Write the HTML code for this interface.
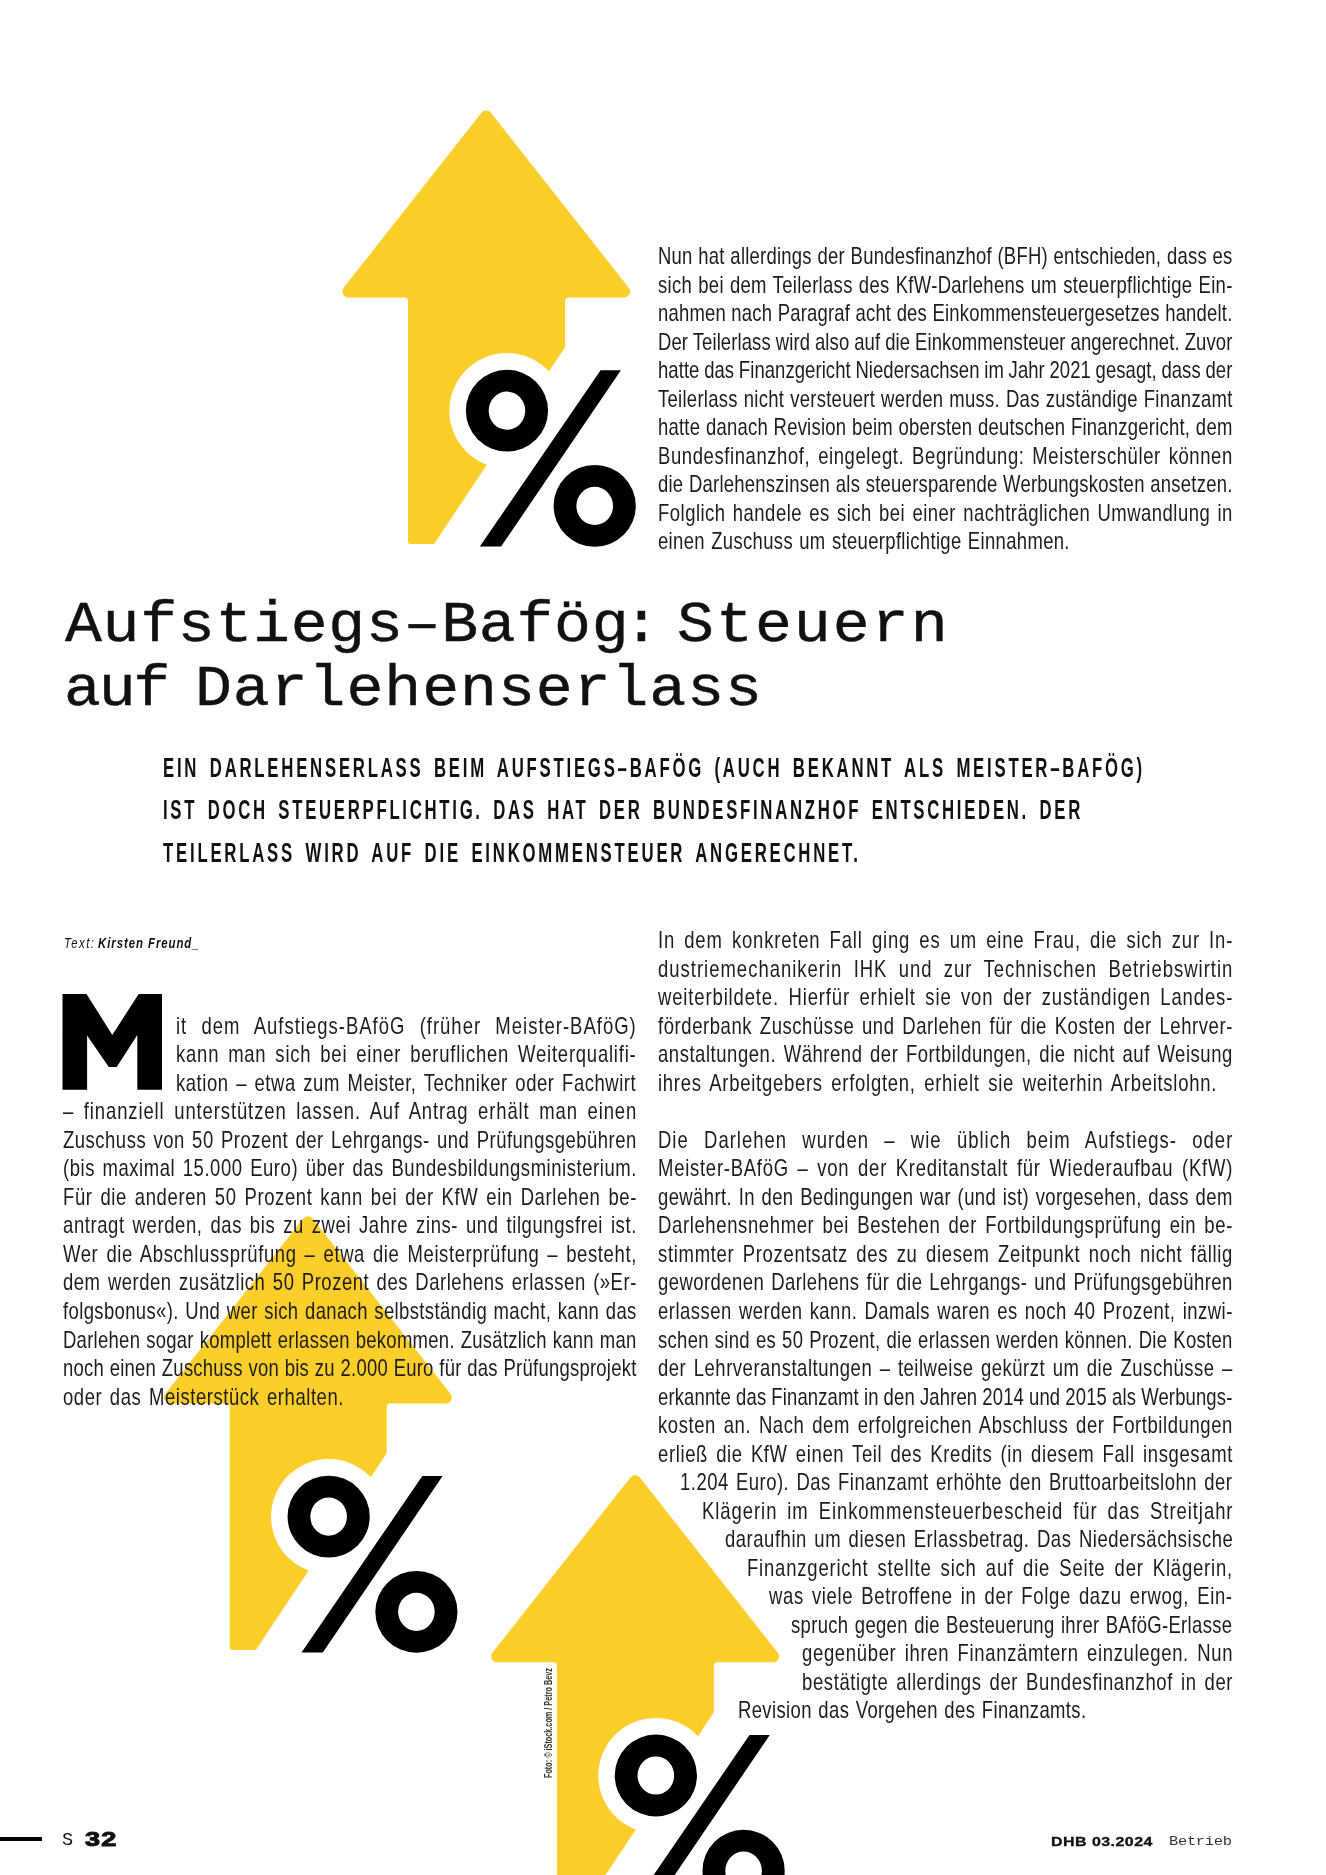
<!DOCTYPE html>
<html lang="de"><head><meta charset="utf-8"><title>Aufstiegs-Bafög: Steuern auf Darlehenserlass</title>
<style>
html,body{margin:0;padding:0;background:#fff}
#p{will-change:transform;position:relative;width:1326px;height:1875px;overflow:hidden;background:#fff;font-family:"Liberation Sans",sans-serif;color:#111}
.l{position:absolute;white-space:pre;font-size:23.2px;line-height:28px;transform-origin:0 0;transform:scaleX(0.797);color:#1c1c1c}
.h{position:absolute;white-space:pre;font-family:"Liberation Mono",monospace;font-size:56.5px;line-height:64px;transform-origin:0 0;transform:scaleX(1.0885);color:#111;-webkit-text-stroke:.45px #111}
.i{position:absolute;white-space:pre;font-weight:bold;font-size:26.8px;line-height:32px;transform-origin:0 0;transform:scaleX(0.625);color:#111}
.by{position:absolute;white-space:pre;font-size:15.0px;line-height:18px;transform-origin:0 0;transform:scaleX(0.76)}
.fs{position:absolute;font-family:"Liberation Mono",monospace;font-size:18.5px;line-height:24px}
.fn{position:absolute;font-weight:bold;font-size:20.5px;line-height:24px;transform-origin:0 0;transform:scaleX(1.32);-webkit-text-stroke:1px #111;letter-spacing:1px}
.fd{position:absolute;white-space:pre;font-weight:bold;font-size:12.3px;line-height:16px;transform-origin:0 0;transform:scaleX(1.3);-webkit-text-stroke:.3px #111}
.fb{position:absolute;font-family:"Liberation Mono",monospace;font-size:13.4px;line-height:16px;color:#333;transform-origin:0 0;transform:scaleX(1.15)}
.cr{position:absolute;white-space:pre;font-weight:bold;font-size:11.5px;line-height:12px;transform-origin:0 0;transform:rotate(-90deg) scaleX(0.63);color:#333}
</style></head><body><div id="p">
<svg width="1326" height="1875" viewBox="0 0 1326 1875" style="position:absolute;left:0;top:0"><g><path d="M481.49 112.69 A6 6 0 0 1 490.91 112.69 L628.76 287.79 A6 6 0 0 1 624.04 297.50 L568.50 297.50 A3.5 3.5 0 0 0 565.00 301.00 L565.00 541.00 A3 3 0 0 1 562.00 544.00 L411.00 544.00 A3 3 0 0 1 408.00 541.00 L408.00 301.00 A3.5 3.5 0 0 0 404.50 297.50 L348.36 297.50 A6 6 0 0 1 343.64 287.79 Z" fill="#fcce2a"/><path d="M570 339.84L570 547L432.13 547Z" fill="#fff"/><circle cx="506.95" cy="410.7" r="57.6" fill="#fff"/><path d="M465.85 410.70A41.1 40.9 0 1 1 548.05 410.70A41.1 40.9 0 1 1 465.85 410.70ZM488.65 410.70A18.3 19.1 0 1 0 525.25 410.70A18.3 19.1 0 1 0 488.65 410.70ZM553.60 505.90A41.1 40.9 0 1 1 635.80 505.90A41.1 40.9 0 1 1 553.60 505.90ZM576.40 505.90A18.3 19.1 0 1 0 613.00 505.90A18.3 19.1 0 1 0 576.40 505.90ZM600.6 370.2L620.9 370.2L501.1 546.6L479.8 546.6Z" fill="#000"/></g><g transform="translate(-178.3 1105.9)"><path d="M481.49 112.69 A6 6 0 0 1 490.91 112.69 L628.76 287.79 A6 6 0 0 1 624.04 297.50 L568.50 297.50 A3.5 3.5 0 0 0 565.00 301.00 L565.00 541.00 A3 3 0 0 1 562.00 544.00 L411.00 544.00 A3 3 0 0 1 408.00 541.00 L408.00 301.00 A3.5 3.5 0 0 0 404.50 297.50 L348.36 297.50 A6 6 0 0 1 343.64 287.79 Z" fill="#fcce2a"/><path d="M570 339.84L570 547L432.13 547Z" fill="#fff"/><circle cx="506.95" cy="410.7" r="57.6" fill="#fff"/><path d="M465.85 410.70A41.1 40.9 0 1 1 548.05 410.70A41.1 40.9 0 1 1 465.85 410.70ZM488.65 410.70A18.3 19.1 0 1 0 525.25 410.70A18.3 19.1 0 1 0 488.65 410.70ZM553.60 505.90A41.1 40.9 0 1 1 635.80 505.90A41.1 40.9 0 1 1 553.60 505.90ZM576.40 505.90A18.3 19.1 0 1 0 613.00 505.90A18.3 19.1 0 1 0 576.40 505.90ZM600.6 370.2L620.9 370.2L501.1 546.6L479.8 546.6Z" fill="#000"/></g><g transform="translate(148.9 1364.8)"><path d="M481.49 112.69 A6 6 0 0 1 490.91 112.69 L628.76 287.79 A6 6 0 0 1 624.04 297.50 L568.50 297.50 A3.5 3.5 0 0 0 565.00 301.00 L565.00 541.00 A3 3 0 0 1 562.00 544.00 L411.00 544.00 A3 3 0 0 1 408.00 541.00 L408.00 301.00 A3.5 3.5 0 0 0 404.50 297.50 L348.36 297.50 A6 6 0 0 1 343.64 287.79 Z" fill="#fcce2a"/><path d="M570 339.84L570 547L432.13 547Z" fill="#fff"/><circle cx="506.95" cy="410.7" r="57.6" fill="#fff"/><path d="M465.85 410.70A41.1 40.9 0 1 1 548.05 410.70A41.1 40.9 0 1 1 465.85 410.70ZM488.65 410.70A18.3 19.1 0 1 0 525.25 410.70A18.3 19.1 0 1 0 488.65 410.70ZM553.60 505.90A41.1 40.9 0 1 1 635.80 505.90A41.1 40.9 0 1 1 553.60 505.90ZM576.40 505.90A18.3 19.1 0 1 0 613.00 505.90A18.3 19.1 0 1 0 576.40 505.90ZM600.6 370.2L620.9 370.2L501.1 546.6L479.8 546.6Z" fill="#000"/></g></svg>
<svg width="1326" height="1875" viewBox="0 0 1326 1875" style="position:absolute;left:0;top:0"><polygon fill="#000" points="62.5,994.0 86.5,994.0 112.3,1034.9 138.7,994.0 162.0,994.0 162.0,1089.8 137.3,1089.8 137.3,1034.9 116.7,1067.1 108.8,1067.1 87.1,1035.4 87.1,1089.8 62.5,1089.8"/></svg>
<div class="h" style="left:65.10px;top:594.32px;letter-spacing:0.660px">Aufstiegs–Bafög</div><div class="h" style="left:623.25px;top:594.32px;letter-spacing:0.000px">:</div><div class="h" style="left:677.42px;top:594.32px;letter-spacing:1.879px">Steuern</div><div class="h" style="left:64.13px;top:657.72px;letter-spacing:-2.063px">auf</div><div class="h" style="left:195.35px;top:657.72px;letter-spacing:0.880px">Darlehenserlass</div>
<div class="i" style="left:162.57px;top:751.51px;letter-spacing:4.428px;word-spacing:5.0px">EIN DARLEHENSERLASS BEIM AUFSTIEGS–BAFÖG (AUCH BEKANNT ALS MEISTER–BAFÖG)</div>
<div class="i" style="left:162.57px;top:794.41px;letter-spacing:4.342px;word-spacing:5.0px">IST DOCH STEUERPFLICHTIG. DAS HAT DER BUNDESFINANZHOF ENTSCHIEDEN. DER</div>
<div class="i" style="left:163.20px;top:837.01px;letter-spacing:4.446px;word-spacing:5.0px">TEILERLASS WIRD AUF DIE EINKOMMENSTEUER ANGERECHNET.</div>

<div class="by" style="left:64.0px;top:933.70px;letter-spacing:1.876px"><i>Text:</i></div><div class="by" style="left:98.0px;top:933.70px;letter-spacing:1.238px"><b><i>Kirsten Freund_</i></b></div>
<div class="l" style="left:658.0px;top:242.36px;letter-spacing:0.293px;word-spacing:0.405px">Nun hat allerdings der Bundesfinanzhof (BFH) entschieden, dass es</div>
<div class="l" style="left:658.0px;top:270.85px;letter-spacing:0.385px;word-spacing:0.866px">sich bei dem Teilerlass des KfW-Darlehens um steuerpflichtige Ein-</div>
<div class="l" style="left:658.0px;top:299.34px;letter-spacing:0.240px;word-spacing:0.142px">nahmen nach Paragraf acht des Einkommensteuergesetzes handelt.</div>
<div class="l" style="left:658.0px;top:327.83px;letter-spacing:0.134px;word-spacing:-0.390px">Der Teilerlass wird also auf die Einkommensteuer angerechnet. Zuvor</div>
<div class="l" style="left:658.0px;top:356.32px;letter-spacing:0.086px;word-spacing:-0.626px">hatte das Finanzgericht Niedersachsen im Jahr 2021 gesagt, dass der</div>
<div class="l" style="left:658.0px;top:384.81px;letter-spacing:0.350px;word-spacing:0.691px">Teilerlass nicht versteuert werden muss. Das zuständige Finanzamt</div>
<div class="l" style="left:658.0px;top:413.30px;letter-spacing:0.286px;word-spacing:0.375px">hatte danach Revision beim obersten deutschen Finanzgericht, dem</div>
<div class="l" style="left:658.0px;top:441.79px;letter-spacing:0.745px;word-spacing:2.669px">Bundesfinanzhof, eingelegt. Begründung: Meisterschüler können</div>
<div class="l" style="left:658.0px;top:470.28px;letter-spacing:0.288px;word-spacing:0.384px">die Darlehenszinsen als steuersparende Werbungskosten ansetzen.</div>
<div class="l" style="left:658.0px;top:498.77px;letter-spacing:0.614px;word-spacing:2.012px">Folglich handele es sich bei einer nachträglichen Umwandlung in</div>
<div class="l" style="left:658.0px;top:527.26px;letter-spacing:0.420px;word-spacing:1.043px">einen Zuschuss um steuerpflichtige Einnahmen.</div>
<div class="l" style="left:176.1px;top:1011.89px;letter-spacing:1.255px;word-spacing:10.231px">it dem Aufstiegs-BAföG (früher Meister-BAföG)</div>
<div class="l" style="left:176.1px;top:1040.40px;letter-spacing:0.975px;word-spacing:3.817px">kann man sich bei einer beruflichen Weiterqualifi-</div>
<div class="l" style="left:176.1px;top:1068.91px;letter-spacing:0.685px;word-spacing:2.366px">kation – etwa zum Meister, Techniker oder Fachwirt</div>
<div class="l" style="left:62.5px;top:1097.42px;letter-spacing:1.116px;word-spacing:4.524px">– finanziell unterstützen lassen. Auf Antrag erhält man einen</div>
<div class="l" style="left:62.5px;top:1125.93px;letter-spacing:0.635px;word-spacing:2.115px">Zuschuss von 50 Prozent der Lehrgangs- und Prüfungsgebühren</div>
<div class="l" style="left:62.5px;top:1154.44px;letter-spacing:0.688px;word-spacing:2.382px">(bis maximal 15.000 Euro) über das Bundesbildungsministerium.</div>
<div class="l" style="left:62.5px;top:1182.95px;letter-spacing:0.759px;word-spacing:2.735px">Für die anderen 50 Prozent kann bei der KfW ein Darlehen be-</div>
<div class="l" style="left:62.5px;top:1211.46px;letter-spacing:0.750px;word-spacing:2.691px">antragt werden, das bis zu zwei Jahre zins- und tilgungsfrei ist.</div>
<div class="l" style="left:62.5px;top:1239.97px;letter-spacing:0.773px;word-spacing:2.807px">Wer die Abschlussprüfung – etwa die Meisterprüfung – besteht,</div>
<div class="l" style="left:62.5px;top:1268.48px;letter-spacing:0.653px;word-spacing:2.209px">dem werden zusätzlich 50 Prozent des Darlehens erlassen (»Er-</div>
<div class="l" style="left:62.5px;top:1296.99px;letter-spacing:0.463px;word-spacing:1.257px">folgsbonus«). Und wer sich danach selbstständig macht, kann das</div>
<div class="l" style="left:62.5px;top:1325.50px;letter-spacing:0.347px;word-spacing:0.678px">Darlehen sogar komplett erlassen bekommen. Zusätzlich kann man</div>
<div class="l" style="left:62.5px;top:1354.01px;letter-spacing:0.297px;word-spacing:0.427px">noch einen Zuschuss von bis zu 2.000 Euro für das Prüfungsprojekt</div>
<div class="l" style="left:62.5px;top:1382.52px;letter-spacing:0.700px;word-spacing:2.441px">oder das Meisterstück erhalten.</div>
<div class="l" style="left:658.0px;top:926.36px;letter-spacing:1.028px;word-spacing:4.084px">In dem konkreten Fall ging es um eine Frau, die sich zur In-</div>
<div class="l" style="left:658.0px;top:954.87px;letter-spacing:1.255px;word-spacing:6.427px">dustriemechanikerin IHK und zur Technischen Betriebswirtin</div>
<div class="l" style="left:658.0px;top:983.38px;letter-spacing:1.085px;word-spacing:4.366px">weiterbildete. Hierfür erhielt sie von der zuständigen Landes-</div>
<div class="l" style="left:658.0px;top:1011.89px;letter-spacing:0.717px;word-spacing:2.526px">förderbank Zuschüsse und Darlehen für die Kosten der Lehrver-</div>
<div class="l" style="left:658.0px;top:1040.40px;letter-spacing:0.686px;word-spacing:2.372px">anstaltungen. Während der Fortbildungen, die nicht auf Weisung</div>
<div class="l" style="left:658.0px;top:1068.91px;letter-spacing:0.906px;word-spacing:3.474px">ihres Arbeitgebers erfolgten, erhielt sie weiterhin Arbeitslohn.</div>
<div class="l" style="left:658.0px;top:1125.93px;letter-spacing:1.255px;word-spacing:11.510px">Die Darlehen wurden – wie üblich beim Aufstiegs- oder</div>
<div class="l" style="left:658.0px;top:1154.44px;letter-spacing:0.931px;word-spacing:3.595px">Meister-BAföG – von der Kreditanstalt für Wiederaufbau (KfW)</div>
<div class="l" style="left:658.0px;top:1182.95px;letter-spacing:0.491px;word-spacing:1.399px">gewährt. In den Bedingungen war (und ist) vorgesehen, dass dem</div>
<div class="l" style="left:658.0px;top:1211.46px;letter-spacing:0.796px;word-spacing:2.920px">Darlehensnehmer bei Bestehen der Fortbildungsprüfung ein be-</div>
<div class="l" style="left:658.0px;top:1239.97px;letter-spacing:0.864px;word-spacing:3.260px">stimmter Prozentsatz des zu diesem Zeitpunkt noch nicht fällig</div>
<div class="l" style="left:658.0px;top:1268.48px;letter-spacing:0.563px;word-spacing:1.759px">gewordenen Darlehens für die Lehrgangs- und Prüfungsgebühren</div>
<div class="l" style="left:658.0px;top:1296.99px;letter-spacing:0.607px;word-spacing:1.979px">erlassen werden kann. Damals waren es noch 40 Prozent, inzwi-</div>
<div class="l" style="left:658.0px;top:1325.50px;letter-spacing:0.368px;word-spacing:0.780px">schen sind es 50 Prozent, die erlassen werden können. Die Kosten</div>
<div class="l" style="left:658.0px;top:1354.01px;letter-spacing:0.659px;word-spacing:2.236px">der Lehrveranstaltungen – teilweise gekürzt um die Zuschüsse –</div>
<div class="l" style="left:658.0px;top:1382.52px;letter-spacing:0.166px;word-spacing:-0.228px">erkannte das Finanzamt in den Jahren 2014 und 2015 als Werbungs-</div>
<div class="l" style="left:658.0px;top:1411.03px;letter-spacing:0.730px;word-spacing:2.591px">kosten an. Nach dem erfolgreichen Abschluss der Fortbildungen</div>
<div class="l" style="left:658.0px;top:1439.54px;letter-spacing:0.802px;word-spacing:2.951px">erließ die KfW einen Teil des Kredits (in diesem Fall insgesamt</div>
<div class="l" style="left:680.4px;top:1468.05px;letter-spacing:0.617px;word-spacing:2.026px">1.204 Euro). Das Finanzamt erhöhte den Bruttoarbeitslohn der</div>
<div class="l" style="left:701.8px;top:1496.56px;letter-spacing:1.183px;word-spacing:4.855px">Klägerin im Einkommensteuerbescheid für das Streitjahr</div>
<div class="l" style="left:724.5px;top:1525.07px;letter-spacing:0.668px;word-spacing:2.284px">daraufhin um diesen Erlassbetrag. Das Niedersächsische</div>
<div class="l" style="left:747.1px;top:1553.58px;letter-spacing:1.012px;word-spacing:4.001px">Finanzgericht stellte sich auf die Seite der Klägerin,</div>
<div class="l" style="left:769.3px;top:1582.09px;letter-spacing:0.805px;word-spacing:2.969px">was viele Betroffene in der Folge dazu erwog, Ein-</div>
<div class="l" style="left:791.2px;top:1610.60px;letter-spacing:0.420px;word-spacing:1.044px">spruch gegen die Besteuerung ihrer BAföG-Erlasse</div>
<div class="l" style="left:801.8px;top:1639.11px;letter-spacing:0.845px;word-spacing:3.168px">gegenüber ihren Finanzämtern einzulegen. Nun</div>
<div class="l" style="left:801.8px;top:1667.62px;letter-spacing:0.772px;word-spacing:2.803px">bestätigte allerdings der Bundesfinanzhof in der</div>
<div class="l" style="left:738.0px;top:1696.13px;letter-spacing:0.464px;word-spacing:1.260px">Revision das Vorgehen des Finanzamts.</div>
<div style="position:absolute;left:0;top:1837.2px;width:42px;height:4.2px;background:#000"></div>
<div class="fs" style="left:62px;top:1829.06px">S</div>
<div class="fn" style="left:85px;top:1826.5px">32</div>
<div class="fd" style="left:1050.6px;top:1833.54px;letter-spacing:0.348px">DHB 03.2024</div>
<div class="fb" style="left:1169.0px;top:1834.22px;letter-spacing:-0.250px">Betrieb</div>
<div class="cr" style="left:542.32px;top:1778px;letter-spacing:0.015px">Foto: © iStock.com / Petro Bevz</div>
</div></body></html>
